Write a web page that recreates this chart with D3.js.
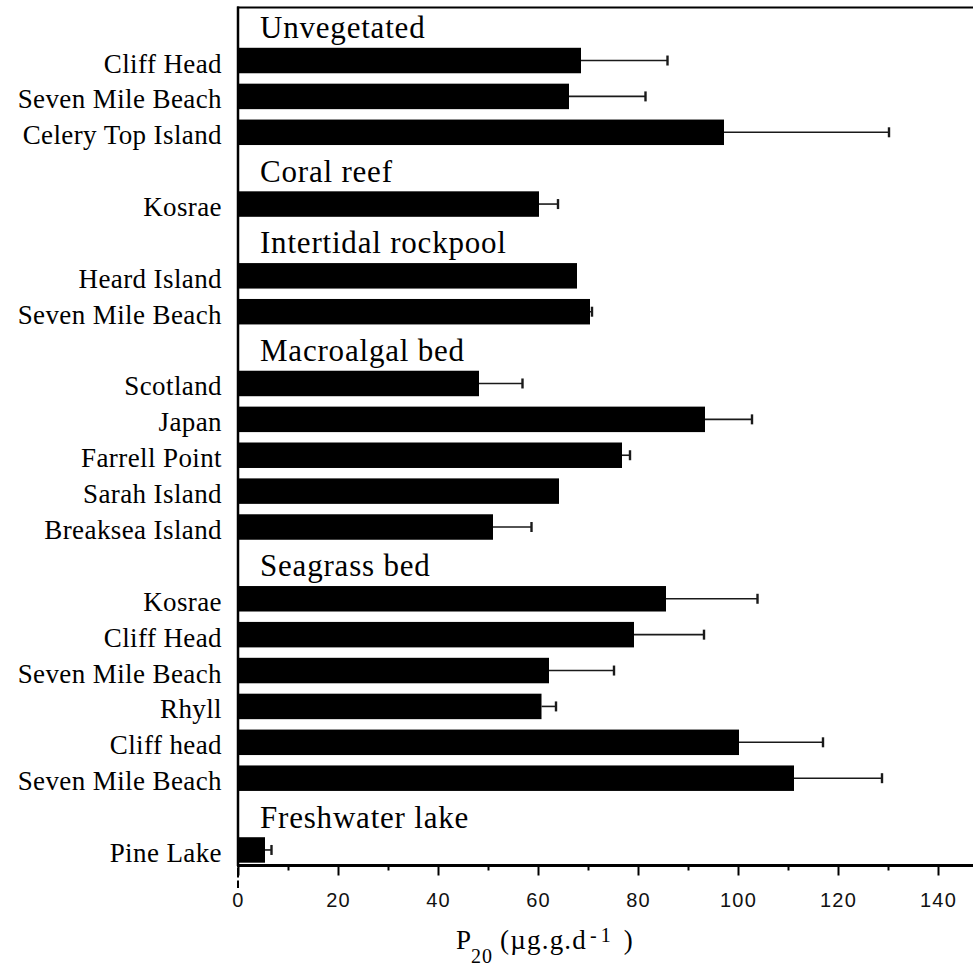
<!DOCTYPE html>
<html>
<head>
<meta charset="utf-8">
<script src="https://cdn.jsdelivr.net/npm/d3@7"></script>
<style>
  html, body { margin: 0; padding: 0; background: #fff; }
  svg { display: block; }
</style>
</head>
<body>
<svg id="chart" width="973" height="966"></svg>
<script>
// Habitat groups and the sites sampled in each
const groupNames = ["Unvegetated", "Coral reef", "Intertidal rockpool", "Macroalgal bed", "Seagrass bed", "Freshwater lake"];
const siteNames = [
  "Cliff Head", "Seven Mile Beach", "Celery Top Island",
  "Kosrae",
  "Heard Island", "Seven Mile Beach",
  "Scotland", "Japan", "Farrell Point", "Sarah Island", "Breaksea Island",
  "Kosrae", "Cliff Head", "Seven Mile Beach", "Rhyll", "Cliff head", "Seven Mile Beach",
  "Pine Lake"
];
const siteGroup = [0, 0, 0, 1, 2, 2, 3, 3, 3, 3, 3, 4, 4, 4, 4, 4, 4, 5];
// P20 (µg g-1 d-1): mean and upper error
const p20Mean = [68.6, 66.2, 97.2, 60.2, 67.8, 70.4, 48.2, 93.4, 76.8, 64.2, 51.0, 85.6, 79.2, 62.2, 60.7, 100.2, 111.2, 5.4];
const p20Err  = [17.3, 15.3, 33.0, 3.8, 0, 0.4, 8.7, 9.4, 1.6, 0, 7.7, 18.3, 14.0, 13.0, 2.9, 16.8, 17.6, 1.3];
const xMajorTicks = [0, 20, 40, 60, 80, 100, 120, 140];
const xMinorTicks = [10, 30, 50, 70, 90, 110, 130];

// One row per group heading followed by its sites
const rows = [];
groupNames.forEach((g, gi) => {
  rows.push({ key: "g" + gi, type: "group", label: g });
  siteNames.forEach((s, i) => {
    if (siteGroup[i] === gi) rows.push({ key: "s" + i, type: "site", label: s, value: p20Mean[i], err: p20Err[i] });
  });
});

const svg = d3.select("#chart");
const serif = "'Liberation Serif', 'Times New Roman', serif";
const sans = "'Liberation Sans', Arial, sans-serif";

const x = d3.scaleLinear().domain([0, 150]).range([238, 988]);
const y = d3.scaleBand()
  .domain(rows.map(r => r.key))
  .range([6.7, 867.9])
  .paddingInner(0.29)
  .paddingOuter(0.145);

const sites = rows.filter(r => r.type === "site");
const heads = rows.filter(r => r.type === "group");
const cy = k => y(k) + y.bandwidth() / 2;

// Bars
svg.append("g").selectAll("rect").data(sites).join("rect")
  .attr("x", x(0))
  .attr("y", d => y(d.key))
  .attr("width", d => x(d.value) - x(0))
  .attr("height", y.bandwidth())
  .attr("fill", "#000");

// Error bars (upper side only)
const eb = svg.append("g").selectAll("g").data(sites.filter(d => d.err > 0)).join("g");
eb.append("line")
  .attr("x1", d => x(d.value)).attr("x2", d => x(d.value + d.err))
  .attr("y1", d => cy(d.key)).attr("y2", d => cy(d.key))
  .attr("stroke", "#1a1a1a").attr("stroke-width", 1.6);
eb.append("line")
  .attr("x1", d => x(d.value + d.err)).attr("x2", d => x(d.value + d.err))
  .attr("y1", d => cy(d.key) - 5).attr("y2", d => cy(d.key) + 5)
  .attr("stroke", "#1a1a1a").attr("stroke-width", 2.4);

// Site labels
svg.append("g").selectAll("text").data(sites).join("text")
  .attr("x", 222)
  .attr("y", d => cy(d.key) + 12)
  .attr("text-anchor", "end")
  .attr("font-family", serif)
  .attr("font-size", 27)
  .attr("letter-spacing", 0.4)
  .attr("fill", "#000")
  .text(d => d.label);

// Group headings inside the plot
svg.append("g").selectAll("text").data(heads).join("text")
  .attr("x", 260)
  .attr("y", d => cy(d.key) + 13.5)
  .attr("font-family", serif)
  .attr("font-size", 31)
  .attr("letter-spacing", 0.8)
  .attr("fill", "#000")
  .text(d => d.label);

// Frame: top and left edges
svg.append("line").attr("x1", 237).attr("x2", 973).attr("y1", 7.5).attr("y2", 7.5)
  .attr("stroke", "#000").attr("stroke-width", 2);
svg.append("line").attr("x1", 238).attr("x2", 238).attr("y1", 6.5).attr("y2", 866)
  .attr("stroke", "#000").attr("stroke-width", 2.5);

// X axis
const axisY = 865.5;
const gMajor = svg.append("g").attr("transform", `translate(0,${axisY})`)
  .call(d3.axisBottom(x).tickValues(xMajorTicks).tickSize(10).tickFormat(d3.format("d")));
gMajor.select(".domain").remove();
gMajor.selectAll(".tick line").attr("stroke", "#000").attr("stroke-width", 2);
gMajor.selectAll(".tick text")
  .attr("y", 41).attr("dy", 0)
  .attr("font-family", sans).attr("font-size", 20)
  .attr("letter-spacing", 1.2)
  .attr("fill", "#111");

const gMinor = svg.append("g").attr("transform", `translate(0,${axisY})`)
  .call(d3.axisBottom(x).tickValues(xMinorTicks).tickSize(5).tickFormat(""));
gMinor.select(".domain").remove();
gMinor.selectAll(".tick line").attr("stroke", "#000").attr("stroke-width", 2);

svg.append("line").attr("x1", 237).attr("x2", 973).attr("y1", axisY).attr("y2", axisY)
  .attr("stroke", "#000").attr("stroke-width", 3.2);
svg.append("line").attr("x1", x(0)).attr("x2", x(0)).attr("y1", axisY + 2).attr("y2", 888)
  .attr("stroke", "#000").attr("stroke-width", 2).attr("stroke-dasharray", "10,3");

// Axis title
const title = svg.append("text")
  .attr("x", 456).attr("y", 949)
  .attr("font-family", serif).attr("font-size", 27).attr("fill", "#000");
title.append("tspan").text("P");
title.append("tspan").attr("font-size", 20).attr("dy", 14).attr("letter-spacing", 1).text("20");
title.append("tspan").attr("dy", -14).attr("dx", 7).attr("letter-spacing", 1.2).text("(µg.g.d");
title.append("tspan").attr("font-size", 20).attr("dy", -7).attr("dx", 3).attr("letter-spacing", 4).text("-1");
title.append("tspan").attr("dy", 7).attr("dx", 9).text(")");
</script>
</body>
</html>
